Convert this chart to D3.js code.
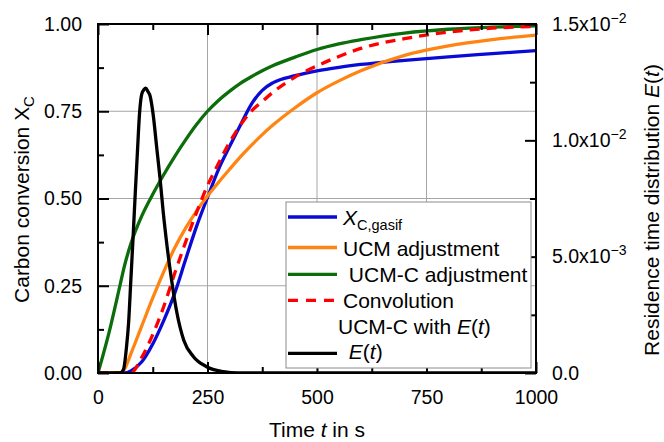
<!DOCTYPE html>
<html>
<head>
<meta charset="utf-8">
<script src="https://cdn.jsdelivr.net/npm/d3@7/dist/d3.min.js"></script>
<style>
  html, body { margin: 0; padding: 0; background: #fff; }
  svg { display: block; font-family: "Liberation Sans", Arial, sans-serif; }
  text { white-space: pre; }
</style>
</head>
<body>
<svg id="chart" width="664" height="442"></svg>
<script>
// Time grid (s) shared by the conversion curves
const timeS = [0, 25, 50, 60, 75, 100, 125, 150, 175, 200, 225, 250, 275, 300, 325, 350, 375, 400, 450, 500, 550, 600, 700, 800, 900, 1000];

// Carbon conversion X_C (left axis)
const xcGasif     = [0, 0, 0, 0, 0.006, 0.032, 0.083, 0.15, 0.228, 0.325, 0.42, 0.503, 0.583, 0.648, 0.71, 0.77, 0.81, 0.832, 0.852, 0.866, 0.876, 0.884, 0.896, 0.906, 0.915, 0.924];
const ucmAdj      = [0, 0, 0, 0.01, 0.055, 0.135, 0.215, 0.29, 0.358, 0.415, 0.464, 0.507, 0.546, 0.583, 0.619, 0.652, 0.683, 0.711, 0.76, 0.803, 0.837, 0.866, 0.91, 0.937, 0.955, 0.968];
const ucmcAdj     = [0, 0.115, 0.25, 0.305, 0.37, 0.45, 0.512, 0.568, 0.62, 0.668, 0.712, 0.75, 0.781, 0.807, 0.83, 0.849, 0.866, 0.881, 0.905, 0.927, 0.943, 0.955, 0.974, 0.985, 0.991, 0.995];
const convolution = [0, 0, 0, 0, 0, 0.045, 0.11, 0.19, 0.285, 0.375, 0.46, 0.537, 0.6, 0.66, 0.71, 0.75, 0.778, 0.805, 0.848, 0.88, 0.907, 0.93, 0.958, 0.977, 0.988, 0.993];

// Residence time distribution E(t) (right axis, 1/s)
const rtdTime  = [0, 50, 58, 65, 70, 75, 80, 85, 90, 95, 100, 105, 109, 114, 119, 126, 134, 142, 149, 158, 168, 180, 196, 218, 248, 286, 320, 400, 1000];
const rtdValue = [0, 0, 0.00014, 0.0011, 0.0022, 0.004, 0.0058, 0.0077, 0.0095, 0.0112, 0.0120, 0.01218, 0.01224, 0.0121, 0.0119, 0.0111, 0.0097, 0.0083, 0.0069, 0.0054, 0.0040, 0.0026, 0.0014, 0.0007, 0.00027, 0.00006, 0, 0, 0];

// Axis ticks and labels
const xTicks = [0, 250, 500, 750, 1000];
const xMinorTicks = [125, 375, 625, 875];
const yTicks = [0, 0.25, 0.5, 0.75, 1];
const yTickLabels = ["0.00", "0.25", "0.50", "0.75", "1.00"];
const yMinorTicks = [0.125, 0.375, 0.625, 0.875];
const y2Ticks = [0, 0.005, 0.01, 0.015];
const y2TickMantissa = ["0.0", "5.0x10", "1.0x10", "1.5x10"];
const y2TickExponent = ["", "\u22123", "\u22122", "\u22122"];
const y2MinorTicks = [0.0025, 0.0075, 0.0125];

const svg = d3.select("#chart");
const plot = { left: 98, right: 536, top: 24, bottom: 373 };

const x = d3.scaleLinear().domain([0, 1000]).range([plot.left, plot.right]);
const y = d3.scaleLinear().domain([0, 1]).range([plot.bottom, plot.top]);
const y2 = d3.scaleLinear().domain([0, 0.015]).range([plot.bottom, plot.top]);

const tickFont = "19.5px";
const labelFont = "21px";

svg.append("defs").append("clipPath").attr("id", "plotClip")
  .append("rect")
  .attr("x", plot.left).attr("y", plot.top - 2)
  .attr("width", plot.right - plot.left).attr("height", plot.bottom - plot.top + 2);

// Grid lines at inner major ticks
const grid = svg.append("g").attr("stroke", "#a6a6a6").attr("stroke-width", 1);
grid.selectAll("line.gx").data(xTicks.slice(1, -1)).join("line")
  .attr("x1", d => x(d)).attr("x2", d => x(d))
  .attr("y1", plot.top).attr("y2", plot.bottom);
grid.selectAll("line.gy").data(yTicks.slice(1, -1)).join("line")
  .attr("x1", plot.left).attr("x2", plot.right)
  .attr("y1", d => y(d)).attr("y2", d => y(d));

// Curves
const curves = svg.append("g").attr("clip-path", "url(#plotClip)").attr("fill", "none");
const convLine = d3.line().x((d, i) => x(timeS[i])).y(d => y(d)).curve(d3.curveMonotoneX);
const rtdLine = d3.line().x((d, i) => x(rtdTime[i])).y(d => y2(d)).curve(d3.curveMonotoneX);

const series = [
  { values: xcGasif, color: "#0a0ad6", dash: null },
  { values: ucmAdj, color: "#ff8412", dash: null },
  { values: ucmcAdj, color: "#0b6e0b", dash: null },
  { values: convolution, color: "#ff0000", dash: "10,7" }
];
series.forEach(s => {
  curves.append("path")
    .attr("d", convLine(s.values))
    .attr("stroke", s.color)
    .attr("stroke-width", 3.3)
    .attr("stroke-dasharray", s.dash);
});
curves.append("path")
  .attr("d", rtdLine(rtdValue))
  .attr("stroke", "#000")
  .attr("stroke-width", 3.3);

// Axes with inward ticks
function styleAxis(g) {
  g.select(".domain").remove();
  g.selectAll(".tick line").attr("stroke", "#000").attr("stroke-width", 2);
  g.selectAll("text").attr("fill", "#000").style("font-size", tickFont).style("font-family", "Liberation Sans, Arial, sans-serif");
}

svg.append("g").attr("transform", `translate(0,${plot.bottom})`)
  .call(d3.axisBottom(x).tickValues(xTicks).tickSize(-11).tickPadding(17).tickFormat(d3.format("d")))
  .call(styleAxis);
svg.append("g").attr("transform", `translate(0,${plot.bottom})`)
  .call(d3.axisBottom(x).tickValues(xMinorTicks).tickSize(-6).tickFormat(""))
  .call(styleAxis);
svg.append("g").attr("transform", `translate(0,${plot.top})`)
  .call(d3.axisTop(x).tickValues(xTicks).tickSize(-11).tickFormat(""))
  .call(styleAxis);
svg.append("g").attr("transform", `translate(0,${plot.top})`)
  .call(d3.axisTop(x).tickValues(xMinorTicks).tickSize(-6).tickFormat(""))
  .call(styleAxis);

svg.append("g").attr("transform", `translate(${plot.left},0)`)
  .call(d3.axisLeft(y).tickValues(yTicks).tickSize(-11).tickPadding(16).tickFormat((d, i) => yTickLabels[i]))
  .call(styleAxis);
svg.append("g").attr("transform", `translate(${plot.left},0)`)
  .call(d3.axisLeft(y).tickValues(yMinorTicks).tickSize(-6).tickFormat(""))
  .call(styleAxis);

const rightAxis = svg.append("g").attr("transform", `translate(${plot.right},0)`)
  .call(d3.axisRight(y2).tickValues(y2Ticks).tickSize(-11).tickPadding(16).tickFormat(""))
  .call(styleAxis);
rightAxis.selectAll(".tick text").each(function (d, i) {
  const t = d3.select(this);
  t.text(null);
  t.append("tspan").text(y2TickMantissa[i]);
  if (y2TickExponent[i]) {
    t.append("tspan").attr("dy", -8).style("font-size", "14px").text(y2TickExponent[i]);
  }
});
svg.append("g").attr("transform", `translate(${plot.right},0)`)
  .call(d3.axisRight(y2).tickValues(y2MinorTicks).tickSize(-6).tickFormat(""))
  .call(styleAxis);

// Frame
svg.append("rect")
  .attr("x", plot.left).attr("y", plot.top)
  .attr("width", plot.right - plot.left).attr("height", plot.bottom - plot.top)
  .attr("fill", "none").attr("stroke", "#000").attr("stroke-width", 2);

// Axis titles
const xTitle = svg.append("text")
  .attr("x", (plot.left + plot.right) / 2).attr("y", 437)
  .attr("text-anchor", "middle").style("font-size", labelFont);
xTitle.append("tspan").text("Time ");
xTitle.append("tspan").style("font-style", "italic").text("t");
xTitle.append("tspan").text(" in s");

const yTitle = svg.append("text")
  .attr("transform", `translate(29,199.5) rotate(-90)`)
  .attr("text-anchor", "middle").style("font-size", labelFont);
yTitle.append("tspan").text("Carbon conversion X");
yTitle.append("tspan").attr("dy", 5).style("font-size", "15px").text("C");

const y2Title = svg.append("text")
  .attr("transform", `translate(659,210) rotate(-90)`)
  .attr("text-anchor", "middle").style("font-size", labelFont);
y2Title.append("tspan").text("Residence time distribution ");
y2Title.append("tspan").style("font-style", "italic").text("E");
y2Title.append("tspan").text("(");
y2Title.append("tspan").style("font-style", "italic").text("t");
y2Title.append("tspan").text(")");

// Legend
const legend = svg.append("g");
legend.append("rect")
  .attr("x", 286).attr("y", 202).attr("width", 245).attr("height", 166)
  .attr("fill", "#fff").attr("stroke", "#8c8c8c").attr("stroke-width", 1);

const legendRows = [
  { color: "#0a0ad6", dash: null, lineY: 217, textY: 224.5, textX: 343,
    parts: [["X", "italic"], ["C,gasif", "sub"]] },
  { color: "#ff8412", dash: null, lineY: 247.5, textY: 256, textX: 343,
    parts: [["UCM adjustment", ""]] },
  { color: "#0b6e0b", dash: null, lineY: 274.3, textY: 282, textX: 343,
    parts: [[" UCM-C adjustment", ""]] },
  { color: "#ff0000", dash: "10,8", lineY: 300.3, textY: 307.5, textX: 343,
    parts: [["Convolution", ""]] },
  { color: null, dash: null, lineY: null, textY: 333.5, textX: 338,
    parts: [["UCM-C with ", ""], ["E", "italic"], ["(", ""], ["t", "italic"], [")", ""]] },
  { color: "#000", dash: null, lineY: 353.3, textY: 358.5, textX: 343,
    parts: [[" ", ""], ["E", "italic"], ["(", ""], ["t", "italic"], [")", ""]] }
];

legendRows.forEach(r => {
  if (r.color) {
    legend.append("line")
      .attr("x1", 288).attr("x2", 337)
      .attr("y1", r.lineY).attr("y2", r.lineY)
      .attr("stroke", r.color).attr("stroke-width", 3.3)
      .attr("stroke-dasharray", r.dash);
  }
  const t = legend.append("text").attr("x", r.textX).attr("y", r.textY).style("font-size", labelFont);
  r.parts.forEach(([str, kind]) => {
    const sp = t.append("tspan").text(str);
    if (kind === "italic") sp.style("font-style", "italic");
    if (kind === "sub") sp.attr("dy", 5).style("font-size", "14.5px");
  });
});
</script>
</body>
</html>
